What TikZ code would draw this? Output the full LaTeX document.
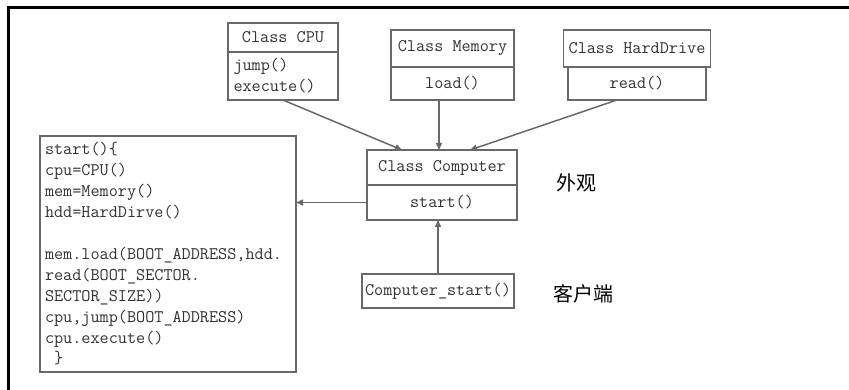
\documentclass[tikz,border=0pt]{standalone}
\usepackage{fontspec}
\newfontfamily\cjk{Noto Sans CJK SC}
\usepackage{tikz}
\usetikzlibrary{
    arrows.meta,
    positioning,
    calc
}
\usepackage{xcolor}
\definecolor{linegray}{RGB}{105,105,105}
\definecolor{textgray}{RGB}{50,50,50}

\begin{document}
\begin{tikzpicture}[
    x=1pt, y=-1pt,
    uml/.style={
        rectangle, draw=linegray, line width=1.6pt, outer sep=0pt,
        inner xsep=5pt, inner ysep=2pt, text=textgray,
        font=\ttfamily\fontsize{17.7}{20.9}\selectfont
    },
    arr/.style={
        draw=linegray, line width=1.5pt,
        -{Triangle[length=7pt,width=6pt]}
    },
    cn/.style={font=\cjk\fontsize{20}{24}\selectfont, text=black}
]
\useasboundingbox (0,0) rectangle (849,390);

% Frame
\draw[line width=3pt] (8,390) -- (8,8) -- (849,8);

% Three parts on top
\node[uml, minimum width=110pt, minimum height=29pt] (cpuhdr) at (283,37.5) {Class CPU};
\node[uml, minimum width=110pt, minimum height=48pt, text width=99pt, align=left,
      below=0pt of cpuhdr] (cpubody) {jump()\\execute()};

\node[uml, minimum width=123pt, minimum height=37pt] (memhdr) at (452.5,48.5) {Class Memory};
\node[uml, minimum width=123pt, minimum height=33pt, below=0pt of memhdr] (membody) {load()};

\node[uml, minimum width=138pt, minimum height=37pt] (hddhdr) at (637,48.5) {Class HardDrive};
\node[uml, minimum width=138pt, minimum height=33pt, below=0pt of hddhdr] (hddbody) {read()};

% Facade and client
\node[uml, minimum width=150pt, minimum height=35pt] (comphdr) at (442,167.5) {Class Computer};
\node[uml, minimum width=150pt, minimum height=35pt, below=0pt of comphdr] (compbody) {start()};

\node[uml, minimum width=152pt, minimum height=34pt, inner xsep=0pt] (startbox) at (438,291) {Computer\_start()};

% Code of start()
\node[uml, minimum width=256pt, minimum height=236pt, text width=246pt, align=left] (code) at (168,254) {
    start()\{\\
    cpu=CPU()\\
    mem=Memory()\\
    hdd=HardDirve()\\[20.9pt]
    mem.load(BOOT\_ADDRESS,hdd.\\
    read(BOOT\_SECTOR.\\
    SECTOR\_SIZE))\\
    cpu,jump(BOOT\_ADDRESS)\\
    cpu.execute()\\
    \phantom{x}\}
};

\node[cn] (facade) at (576,183) {外观};
\node[cn] (client) at (583,294) {客户端};

% Arrows
\draw[arr] (cpubody.south) -- ([xshift=-40pt]comphdr.north);
\draw[arr] ([xshift=-13.5pt]membody.south) -- ([xshift=-3pt]comphdr.north);
\draw[arr] ([xshift=-20pt]hddbody.south) -- ([xshift=28pt]comphdr.north);
\draw[arr] (compbody.west) -- (compbody.west -| code.east);
\draw[arr] (startbox.north) -- (compbody.south -| startbox.north);

\end{tikzpicture}
\end{document}
